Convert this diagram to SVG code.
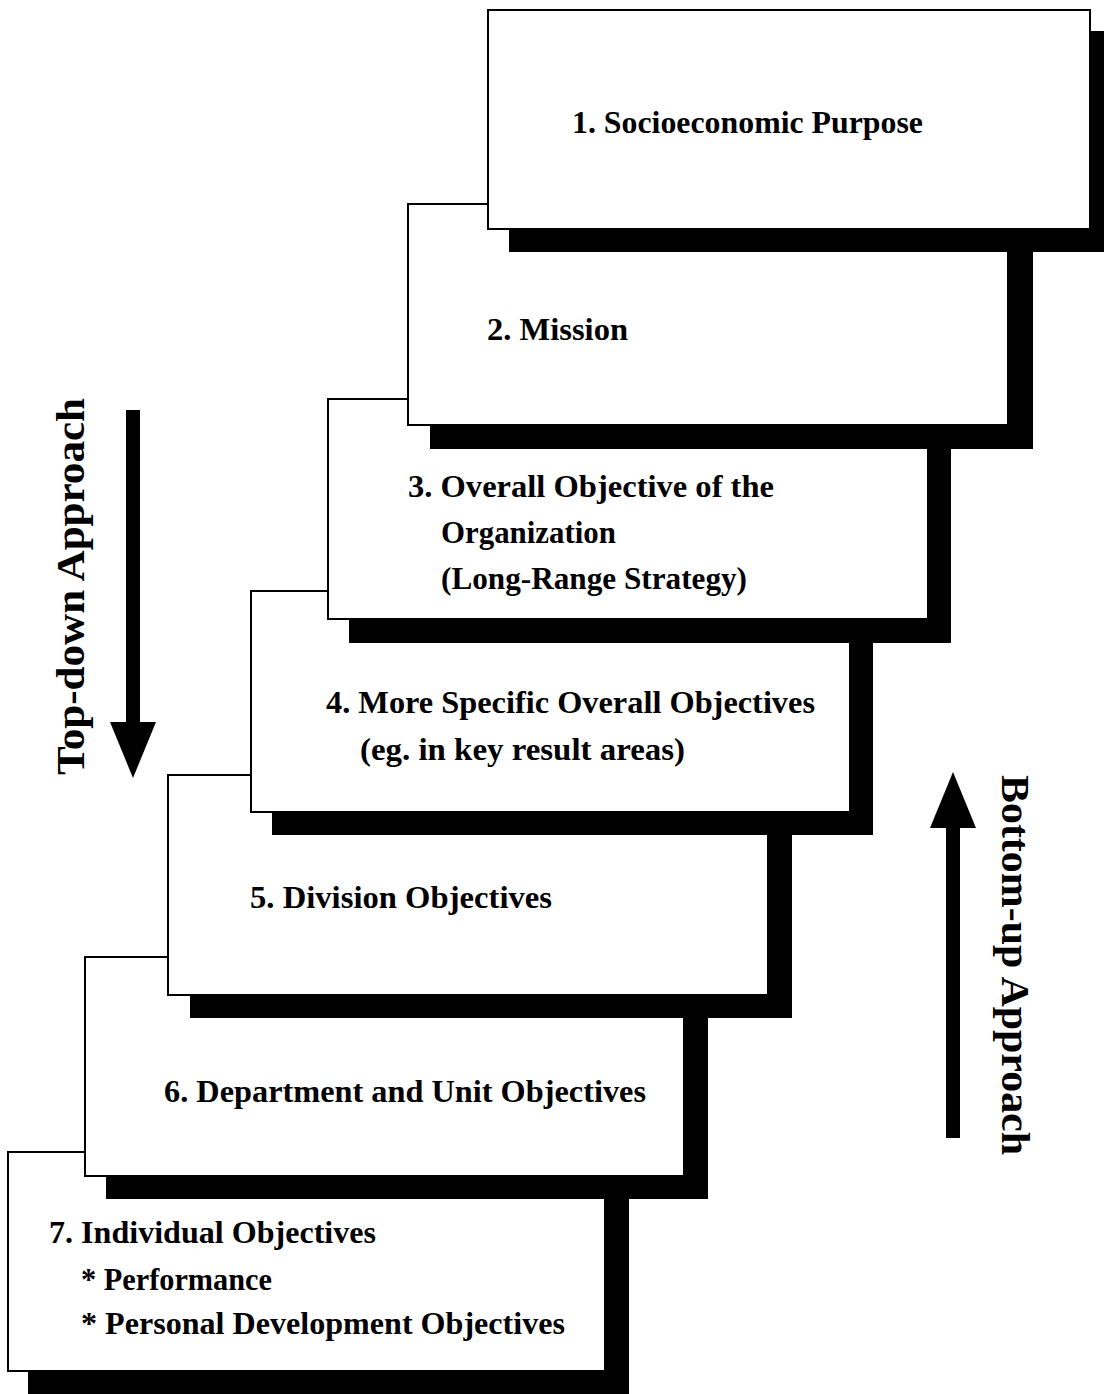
<svg xmlns="http://www.w3.org/2000/svg" width="1104" height="1394" viewBox="0 0 1104 1394">
<style>
.bx{fill:#fff;stroke:#000;stroke-width:2}
.sh{fill:#000}
.t{font-family:"Liberation Serif","Times New Roman",serif;font-weight:bold;font-size:31px;fill:#000}
.v{font-family:"Liberation Serif","Times New Roman",serif;font-weight:bold;font-size:40px;fill:#000}
</style>
<rect width="1104" height="1394" fill="#fff"/>
<g id="node7">
<rect class="sh" x="28" y="1175" width="601" height="219"/>
<rect class="bx" x="8" y="1152" width="597" height="219"/>
<text class="t" x="49" y="1243" textLength="327" lengthAdjust="spacingAndGlyphs">7. Individual Objectives</text>
<text class="t" x="81" y="1290" textLength="191" lengthAdjust="spacingAndGlyphs">* Performance</text>
<text class="t" x="81" y="1334" textLength="484" lengthAdjust="spacingAndGlyphs">* Personal Development Objectives</text>
</g>
<g id="node6">
<rect class="sh" x="106" y="980" width="602" height="219"/>
<rect class="bx" x="85" y="957" width="599" height="219"/>
<text class="t" x="164" y="1102" textLength="482" lengthAdjust="spacingAndGlyphs">6. Department and Unit Objectives</text>
</g>
<g id="node5">
<rect class="sh" x="190" y="798" width="602" height="220"/>
<rect class="bx" x="168" y="775" width="600" height="220"/>
<text class="t" x="250" y="908" textLength="302" lengthAdjust="spacingAndGlyphs">5. Division Objectives</text>
</g>
<g id="node4">
<rect class="sh" x="272" y="614" width="601" height="221"/>
<rect class="bx" x="251" y="591" width="599" height="221"/>
<text class="t" x="326" y="713" textLength="489" lengthAdjust="spacingAndGlyphs">4. More Specific Overall Objectives</text>
<text class="t" x="360" y="760" textLength="325" lengthAdjust="spacingAndGlyphs">(eg. in key result areas)</text>
</g>
<g id="node3">
<rect class="sh" x="349" y="422" width="602" height="221"/>
<rect class="bx" x="328" y="399" width="600" height="220"/>
<text class="t" x="408" y="497" textLength="366" lengthAdjust="spacingAndGlyphs">3. Overall Objective of the</text>
<text class="t" x="441" y="543" textLength="175" lengthAdjust="spacingAndGlyphs">Organization</text>
<text class="t" x="441" y="589" textLength="306" lengthAdjust="spacingAndGlyphs">(Long-Range Strategy)</text>
</g>
<g id="node2">
<rect class="sh" x="430" y="227" width="603" height="222"/>
<rect class="bx" x="408" y="204" width="600" height="221"/>
<text class="t" x="487" y="340" textLength="141" lengthAdjust="spacingAndGlyphs">2. Mission</text>
</g>
<g id="node1">
<rect class="sh" x="509" y="31" width="610" height="221"/>
<rect class="bx" x="488" y="10" width="602" height="219"/>
<text class="t" x="572" y="133" textLength="351" lengthAdjust="spacingAndGlyphs">1. Socioeconomic Purpose</text>
</g>
<g id="connectors">
<g id="topdown">
<rect x="126" y="410" width="14" height="318" fill="#000"/>
<polygon points="110,722 156,722 133,778" fill="#000"/>
<text class="v" transform="translate(84,775) rotate(-90)" textLength="377" lengthAdjust="spacingAndGlyphs">Top-down Approach</text>
</g>
<g id="bottomup">
<rect x="946" y="822" width="14" height="316" fill="#000"/>
<polygon points="930,828 976,828 953,772" fill="#000"/>
<text class="v" transform="translate(1002,775) rotate(90)" textLength="380" lengthAdjust="spacingAndGlyphs">Bottom-up Approach</text>
</g>
</g>
</svg>
